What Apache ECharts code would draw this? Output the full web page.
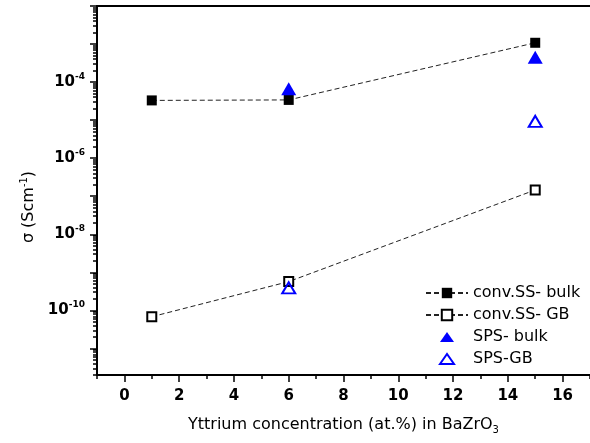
<!DOCTYPE html>
<html>
<head>
<meta charset="utf-8">
<script src="https://cdn.jsdelivr.net/npm/echarts@6/dist/echarts.min.js"></script>
<style>
  html, body { margin: 0; padding: 0; background: #ffffff; }
  #chart { width: 590px; height: 443px; }
</style>
</head>
<body>
<div id="chart"></div>
<script>
// Conductivity of Y-doped BaZrO3, conventional sintering vs. SPS
const seriesNames = ['conv.SS- bulk', 'conv.SS- GB', 'SPS- bulk', 'SPS-GB'];

const convX = [1, 6, 15];
const convBulk = [3.3e-5, 3.4e-5, 1.08e-3];
const convGB = [6.8e-11, 5.7e-10, 1.46e-7];

const spsX = [6, 15];
const spsBulk = [6.7e-5, 4.5e-4];
const spsGB = [3.9e-10, 9.3e-6];

// axis ticks and labels
const xMajorTicks = [0, 2, 4, 6, 8, 10, 12, 14, 16];
const xMinorTicks = [-1, 1, 3, 5, 7, 9, 11, 13, 15, 17];
const yDecades = [1e-11, 1e-10, 1e-9, 1e-8, 1e-7, 1e-6, 1e-5, 1e-4, 1e-3, 1e-2];
const yLabelValues = [1e-10, 1e-8, 1e-6, 1e-4];
const yMin = 2e-12;
const yMax = 1e-2;
const xMin = -1;
const xMax = 17;

// in-between log ticks (2..9 x each decade)
const yMinorTicks = [];
[1e-12].concat(yDecades).forEach(function (d) {
  for (let k = 2; k <= 9; k++) {
    const v = k * d;
    if (v > yMin * 0.999 && v < yMax) yMinorTicks.push(v);
  }
});

const FONT = '"DejaVu Sans", "Liberation Sans", Arial, sans-serif';
const pair = (xs, ys) => xs.map((x, i) => [x, ys[i]]);

// triangle legend glyph, padded to the legend item height so it keeps its size
const TRIANGLE_ICON = 'path://M7,0L7,0M0,11.5L7,1.5L14,11.5ZM7,13L7,13';

const chart = echarts.init(document.getElementById('chart'), null, { renderer: 'canvas' });

const lineAxis = { show: true, onZero: false, lineStyle: { color: '#000', width: 2 } };
const dashed = { color: '#222', width: 1, type: [5, 3] };

chart.setOption({
  animation: false,
  backgroundColor: '#ffffff',
  grid: { left: 97, right: -4, top: 6, bottom: 68, containLabel: false },
  xAxis: [
    {
      type: 'value', position: 'bottom', min: xMin, max: xMax,
      axisLine: lineAxis,
      axisTick: { show: true, length: 7, customValues: xMajorTicks, lineStyle: { color: '#000', width: 1.5 } },
      axisLabel: {
        customValues: xMajorTicks, margin: 14, color: '#000',
        fontFamily: FONT, fontSize: 15, fontWeight: 'bold'
      },
      splitLine: { show: false },
      name: 'Yttrium concentration (at.%) in BaZrO{sub|3}',
      nameLocation: 'middle', nameGap: 40,
      nameTextStyle: {
        color: '#000', fontFamily: FONT, fontSize: 16, lineHeight: 20,
        rich: { sub: { fontFamily: FONT, fontSize: 10, lineHeight: 10, verticalAlign: 'bottom', color: '#000' } }
      }
    },
    {
      type: 'value', position: 'bottom', min: xMin, max: xMax,
      axisLine: { show: false, onZero: false },
      axisTick: { show: true, length: 4, customValues: xMinorTicks, lineStyle: { color: '#000', width: 1.5 } },
      axisLabel: { show: false },
      splitLine: { show: false }
    },
    {
      type: 'value', position: 'top', min: xMin, max: xMax,
      axisLine: lineAxis,
      axisTick: { show: false },
      axisLabel: { show: false },
      splitLine: { show: false }
    }
  ],
  yAxis: [
    {
      type: 'log', logBase: 10, position: 'left', min: yMin, max: yMax,
      axisLine: lineAxis,
      axisTick: { show: true, length: 7, customValues: yDecades, lineStyle: { color: '#000', width: 1.5 } },
      axisLabel: {
        customValues: yLabelValues, margin: 12,
        formatter: function (v) {
          return '{b|10}{s|' + Math.round(Math.log10(v)) + '}';
        },
        rich: {
          b: { fontFamily: FONT, fontSize: 15, fontWeight: 'bold', lineHeight: 20, color: '#000' },
          s: { fontFamily: FONT, fontSize: 9, fontWeight: 'bold', lineHeight: 10, verticalAlign: 'top', color: '#000' }
        }
      },
      splitLine: { show: false },
      name: '{n|σ (Scm}{s|-1}{n|)}',
      nameLocation: 'middle', nameRotate: 90, nameGap: 52,
      nameTextStyle: {
        color: '#000',
        padding: [0, 33, 0, 0],
        rich: {
          n: { fontFamily: FONT, fontSize: 16, lineHeight: 20, color: '#000' },
          s: { fontFamily: FONT, fontSize: 10, lineHeight: 10, verticalAlign: 'top', color: '#000' }
        }
      }
    },
    {
      type: 'log', logBase: 10, position: 'left', min: yMin, max: yMax,
      axisLine: { show: false, onZero: false },
      axisTick: { show: true, length: 4, customValues: yMinorTicks, lineStyle: { color: '#000', width: 1.5 } },
      axisLabel: { show: false },
      splitLine: { show: false }
    }
  ],
  legend: {
    orient: 'vertical', left: 425, top: 285, padding: 0,
    itemWidth: 42, itemHeight: 13, itemGap: 6,
    symbolKeepAspect: true,
    textStyle: { fontFamily: FONT, fontSize: 16, lineHeight: 16, color: '#000' },
    data: [
      { name: seriesNames[0] },
      { name: seriesNames[1] },
      { name: seriesNames[2], icon: TRIANGLE_ICON },
      { name: seriesNames[3], icon: TRIANGLE_ICON }
    ]
  },
  series: [
    {
      name: seriesNames[0], type: 'line', xAxisIndex: 0, yAxisIndex: 0,
      data: pair(convX, convBulk),
      symbol: 'rect', symbolSize: 10,
      itemStyle: { color: '#000', borderColor: '#000', borderWidth: 0 },
      lineStyle: dashed,
      z: 2
    },
    {
      name: seriesNames[1], type: 'line', xAxisIndex: 0, yAxisIndex: 0,
      data: pair(convX, convGB),
      symbol: 'rect', symbolSize: 9,
      itemStyle: { color: '#fff', borderColor: '#000', borderWidth: 2 },
      lineStyle: dashed,
      z: 2
    },
    {
      name: seriesNames[2], type: 'scatter', xAxisIndex: 0, yAxisIndex: 0,
      data: pair(spsX, spsBulk),
      symbol: 'triangle', symbolSize: [15, 13],
      itemStyle: { color: '#0000ff', opacity: 1 },
      z: 3
    },
    {
      name: seriesNames[3], type: 'scatter', xAxisIndex: 0, yAxisIndex: 0,
      data: pair(spsX, spsGB),
      symbol: 'triangle', symbolSize: [13, 11],
      itemStyle: { color: 'rgba(255,255,255,0)', borderColor: '#0000ff', borderWidth: 2, opacity: 1 },
      z: 3
    }
  ]
});
</script>
</body>
</html>
